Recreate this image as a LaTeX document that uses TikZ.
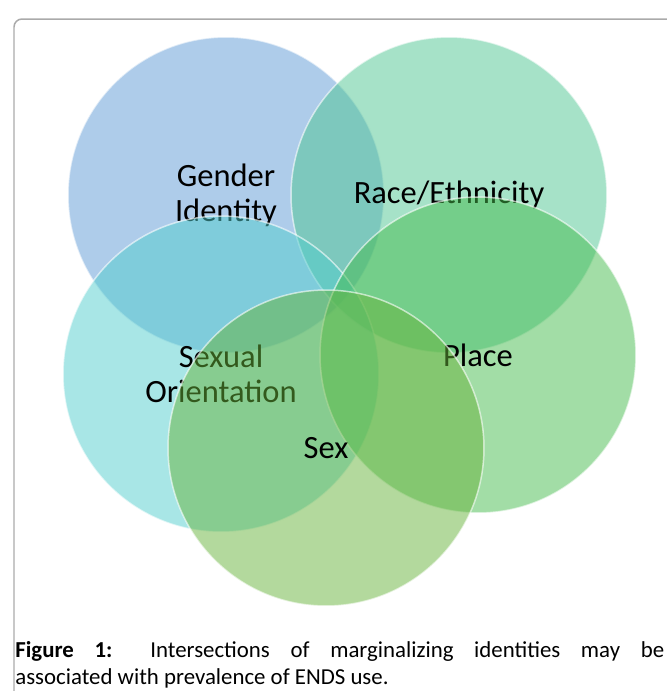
\documentclass[tikz,border=0pt]{standalone}
\usepackage{fontspec}
\setmainfont{Carlito}
\usetikzlibrary{positioning}
\definecolor{genderblue}{RGB}{93,153,213}
\definecolor{racegreen}{RGB}{77,197,145}
\definecolor{orientcyan}{RGB}{81,205,205}
\definecolor{placegreen}{RGB}{69,187,77}
\definecolor{sexgreen}{RGB}{103,179,59}
\definecolor{framegray}{RGB}{170,170,170}
\tikzset{
    disc/.style = {circle, draw=white, draw opacity=0.6, fill opacity=0.5,
                   text opacity=1, line width=0.03cm, minimum size=6.32cm,
                   inner sep=0pt, align=center,
                   font=\fontsize{18.5}{19.8}\selectfont},
    frame/.style = {draw=framegray, line width=0.03cm, rounded corners=0.16cm},
    caption/.style = {inner sep=0pt, anchor=base west,
                      font=\fontsize{13}{15.3}\selectfont}
    }

\begin{document}
\begin{tikzpicture}[x=0.02cm, y=-0.02cm]
    \useasboundingbox (0,0) rectangle (667,691);
    \draw[frame] (14,19) rectangle (720,740);

    % the five overlapping identities, later ones lie on top
    \node (gender) at (226,195) [disc, fill=genderblue] {Gender\\Identity};
    \node (race)   at (449,195) [disc, fill=racegreen]  {Race/Ethnicity};
    \node (orient) at (221,374) [disc, fill=orientcyan] {Sexual\\Orientation};
    \node (place)  at (478,355) [disc, fill=placegreen] {Place};
    \node (sex)    at (326,448) [disc, fill=sexgreen]   {Sex};

    \node (cap1) at (15,657) [caption]
        {\makebox[12.98cm][s]{\textbf{Figure 1:} Intersections of marginalizing identities may be}};
    \node (cap2) at (15,684) [caption] {associated with prevalence of ENDS use.};
\end{tikzpicture}
\end{document}
